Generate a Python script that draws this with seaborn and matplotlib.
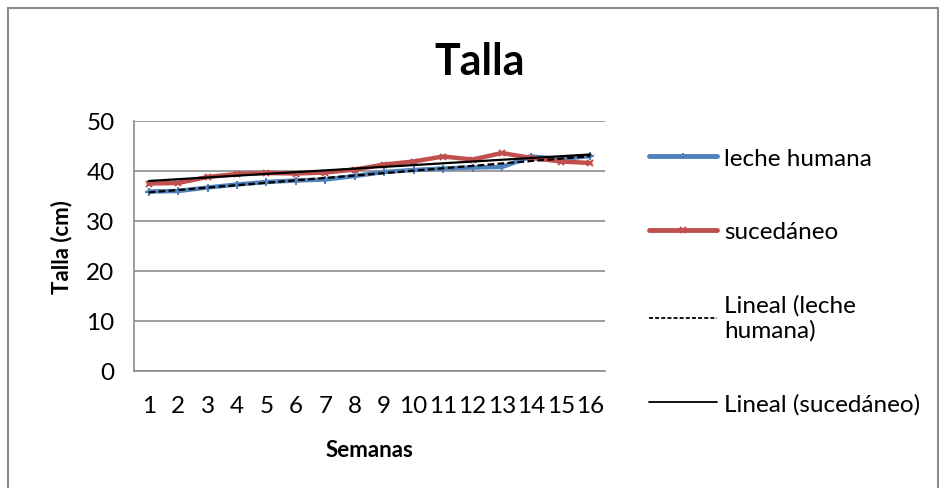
import numpy as np
import pandas as pd
import matplotlib
matplotlib.use("Agg")
import matplotlib.pyplot as plt
import seaborn as sns
from matplotlib.lines import Line2D
from matplotlib.patches import Rectangle

semanas = list(range(1, 17))
leche_humana = [35.9, 36.0, 36.7, 37.3, 37.8, 38.1, 38.3, 39.0, 39.8, 40.2, 40.5, 40.7, 40.8, 42.9, 42.4, 43.0]
sucedaneo = [37.5, 37.6, 38.8, 39.4, 39.6, 39.5, 39.7, 40.3, 41.3, 41.9, 42.9, 42.3, 43.6, 42.6, 41.9, 41.6]

azul = "#4F81BD"
rojo = "#C0504D"

df = pd.DataFrame({"Semanas": semanas * 2,
                   "Talla": leche_humana + sucedaneo,
                   "serie": ["leche humana"] * 16 + ["sucedáneo"] * 16})

sns.set_style("white")
plt.rcParams["font.family"] = ["Lato", "DejaVu Sans"]
plt.rcParams["text.color"] = "black"
plt.rcParams["axes.labelcolor"] = "black"
plt.rcParams["xtick.color"] = "black"
plt.rcParams["ytick.color"] = "black"

fig = plt.figure(figsize=(9.4, 4.89), dpi=100)
ax = fig.add_axes([134 / 940, 1 - 372 / 489, 471 / 940, 250 / 489])

# lineas de tendencia (regresion lineal)
x = np.array(semanas)
fit_h = np.polyval(np.polyfit(x, leche_humana, 1), x)
fit_s = np.polyval(np.polyfit(x, sucedaneo, 1), x)

sns.lineplot(data=df[df.serie == "leche humana"], x="Semanas", y="Talla", ax=ax,
             color=azul, lw=3.2, marker="+", ms=6, mew=1.5, mec=azul)
sns.lineplot(data=df[df.serie == "sucedáneo"], x="Semanas", y="Talla", ax=ax,
             color=rojo, lw=3.2, marker="x", ms=5, mew=1.5, mec=rojo)
ax.plot(x, fit_h, color="black", lw=1.6, ls=(0, (3, 1.5)))
ax.plot(x, fit_s, color="black", lw=1.6)

ax.set_xlim(0.5, 16.5)
ax.set_ylim(0, 50)
ax.set_xticks(semanas)
ax.set_yticks([0, 10, 20, 30, 40, 50])
ax.grid(axis="y", color="#8c8c8c", lw=1.2)
ax.set_axisbelow(True)
for s in ["top", "right"]:
    ax.spines[s].set_visible(False)
ax.spines["left"].set_color("#8c8c8c")
ax.spines["bottom"].set_color("#8c8c8c")
ax.spines["left"].set_linewidth(1.2)
ax.spines["bottom"].set_linewidth(1.2)
ax.tick_params(axis="y", length=6, color="#8c8c8c", width=1.2, labelsize=17.5, pad=8)
ax.tick_params(axis="x", length=0, labelsize=17.5, pad=17)

ax.set_xlabel("Semanas", fontsize=16, fontweight="bold", labelpad=17)
ax.set_ylabel("Talla (cm)", fontsize=16, fontweight="bold", labelpad=10)
fig.text(480 / 940, 1 - 62 / 489, "Talla", fontsize=31, fontweight="bold",
         ha="center", va="center")

handles = [Line2D([], [], color=azul, lw=3.5, marker="|", ms=5, mew=1.5),
           Line2D([], [], color=rojo, lw=3.5, marker="x", ms=4, mew=1.5),
           Line2D([], [], color="black", lw=1.3, ls=(0, (2.2, 1.2))),
           Line2D([], [], color="black", lw=1.3)]
labels = ["leche humana", "sucedáneo", "Lineal (leche\nhumana)", "Lineal (sucedáneo)"]
ax.legend(handles, labels, loc="upper left", bbox_to_anchor=(639 / 940, 1 - 139 / 489),
          bbox_transform=fig.transFigure, frameon=False, fontsize=17.5,
          handlelength=2.8, handletextpad=0.3, labelspacing=2.15, borderaxespad=0)

fig.add_artist(Rectangle((8 / 940, -0.1), 930 / 940, 1.1 - 9 / 489,
                         transform=fig.transFigure, fill=False,
                         edgecolor="#8c8c8c", lw=1.5))

fig.savefig("out.png", dpi=100)
